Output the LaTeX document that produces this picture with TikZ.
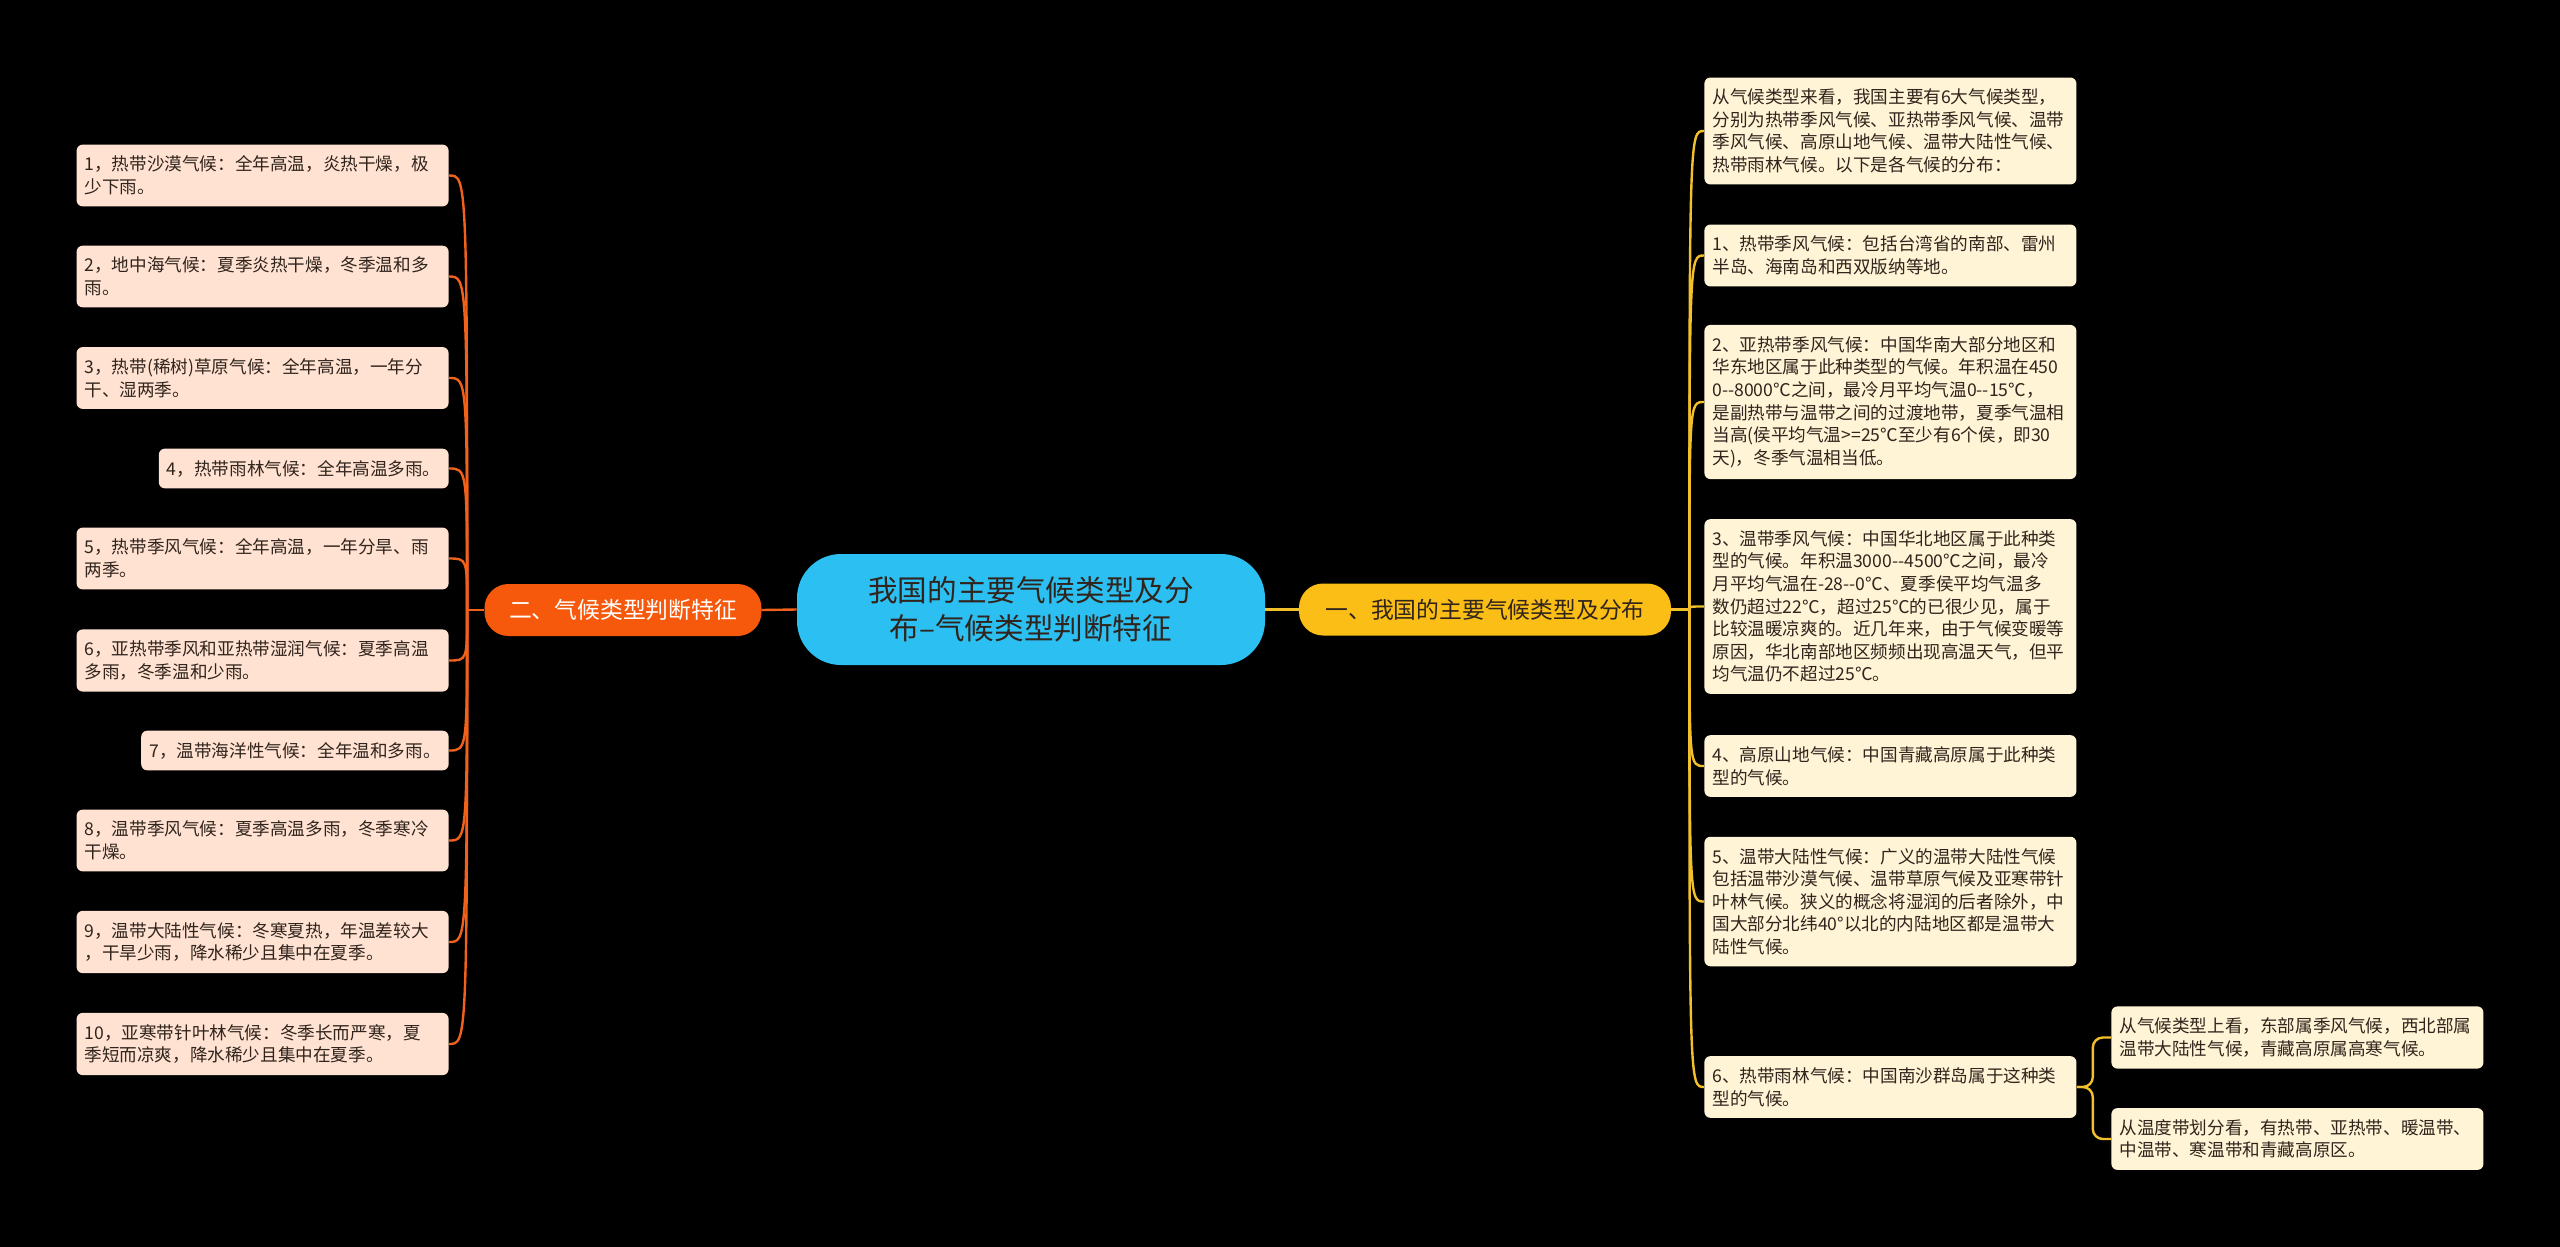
\documentclass[tikz,border=0pt]{standalone}
\usepackage{fontspec}
\setmainfont{Noto Sans CJK SC}
\usepackage{xcolor}
\usepackage{tikz}
\definecolor{rootfill}{RGB}{44,192,242}
\definecolor{mainLfill}{RGB}{246,88,12}
\definecolor{mainRfill}{RGB}{250,190,22}
\definecolor{leafLfill}{RGB}{255,226,210}
\definecolor{leafRfill}{RGB}{255,244,214}
\definecolor{linkLcol}{RGB}{240,98,28}
\definecolor{linkRcol}{RGB}{242,192,42}
\definecolor{inkdark}{RGB}{48,36,28}
\tikzset{
  root/.style={fill=rootfill, rounded corners=22pt, align=center, minimum width=234pt,
    minimum height=55.5pt, text=inkdark, font=\fontsize{14.8pt}{19pt}\selectfont},
  mainL/.style={fill=mainLfill, rounded corners=12pt, minimum width=138.5pt, minimum height=26pt,
    text=white, font=\fontsize{11.4pt}{13pt}\selectfont},
  mainR/.style={fill=mainRfill, rounded corners=12pt, minimum width=186pt, minimum height=26pt,
    text=inkdark, font=\fontsize{11.4pt}{13pt}\selectfont},
  leafL/.style={fill=leafLfill, rounded corners=3pt, align=left, inner xsep=4pt, inner ysep=5.7pt,
    text=inkdark, anchor=east, font=\fontsize{8.8pt}{11.3pt}\selectfont},
  leafR/.style={fill=leafRfill, rounded corners=3pt, align=left, inner xsep=4pt, inner ysep=5.7pt,
    text=inkdark, anchor=west, font=\fontsize{8.8pt}{11.3pt}\selectfont},
  wide/.style={text width=178pt},
  linkL/.style={draw=linkLcol, line width=1.2pt},
  linkR/.style={draw=linkRcol, line width=1.2pt},
}

\begin{document}
\begin{tikzpicture}[x=0.5pt, y=-0.5pt]
  \fill[black] (0,0) rectangle (2560,1247);
  \useasboundingbox (0,0) rectangle (2560,1247);

  \node[root] (root) at (1031,609.5) {我国的主要气候类型及分\\布–气候类型判断特征};
  \node[mainL] (mainL) at (623,610) {二、气候类型判断特征};
  \node[mainR] (mainR) at (1485,609.5) {一、我国的主要气候类型及分布};

  % left branch
  \node[leafL, wide] (l1) at (449,175.5) {1，热带沙漠气候：全年高温，炎热干燥，极\\少下雨。};
  \node[leafL, wide] (l2) at (449,276.5) {2，地中海气候：夏季炎热干燥，冬季温和多\\雨。};
  \node[leafL, wide] (l3) at (449,378) {3，热带(稀树)草原气候：全年高温，一年分\\干、湿两季。};
  \node[leafL] (l4) at (449,468.5) {4，热带雨林气候：全年高温多雨。};
  \node[leafL, wide] (l5) at (449,558.5) {5，热带季风气候：全年高温，一年分旱、雨\\两季。};
  \node[leafL, wide] (l6) at (449,660.5) {6，亚热带季风和亚热带湿润气候：夏季高温\\多雨，冬季温和少雨。};
  \node[leafL] (l7) at (449,750.5) {7，温带海洋性气候：全年温和多雨。};
  \node[leafL, wide] (l8) at (449,840.5) {8，温带季风气候：夏季高温多雨，冬季寒冷\\干燥。};
  \node[leafL, wide] (l9) at (449,942) {9，温带大陆性气候：冬寒夏热，年温差较大\\，干旱少雨，降水稀少且集中在夏季。};
  \node[leafL, wide] (l10) at (449,1044) {10，亚寒带针叶林气候：冬季长而严寒，夏\\季短而凉爽，降水稀少且集中在夏季。};

  % right branch
  \node[leafR, wide] (r0) at (1704,131) {从气候类型来看，我国主要有6大气候类型，\\分别为热带季风气候、亚热带季风气候、温带\\季风气候、高原山地气候、温带大陆性气候、\\热带雨林气候。以下是各气候的分布：};
  \node[leafR, wide] (r1) at (1704,255.5) {1、热带季风气候：包括台湾省的南部、雷州\\半岛、海南岛和西双版纳等地。};
  \node[leafR, wide] (r2) at (1704,402) {2、亚热带季风气候：中国华南大部分地区和\\华东地区属于此种类型的气候。年积温在450\\0-{}-8000℃之间，最冷月平均气温0-{}-15℃，\\是副热带与温带之间的过渡地带，夏季气温相\\当高(侯平均气温>=25℃至少有6个侯，即30\\天)，冬季气温相当低。};
  \node[leafR, wide] (r3) at (1704,606.5) {3、温带季风气候：中国华北地区属于此种类\\型的气候。年积温3000-{}-4500℃之间，最冷\\月平均气温在-28-{}-0℃、夏季侯平均气温多\\数仍超过22℃，超过25℃的已很少见，属于\\比较温暖凉爽的。近几年来，由于气候变暖等\\原因，华北南部地区频频出现高温天气，但平\\均气温仍不超过25℃。};
  \node[leafR, wide] (r4) at (1704,766) {4、高原山地气候：中国青藏高原属于此种类\\型的气候。};
  \node[leafR, wide] (r5) at (1704,901.5) {5、温带大陆性气候：广义的温带大陆性气候\\包括温带沙漠气候、温带草原气候及亚寒带针\\叶林气候。狭义的概念将湿润的后者除外，中\\国大部分北纬40°以北的内陆地区都是温带大\\陆性气候。};
  \node[leafR, wide] (r6) at (1704,1087) {6、热带雨林气候：中国南沙群岛属于这种类\\型的气候。};
  \node[leafR, wide] (c1) at (2111,1037.5) {从气候类型上看，东部属季风气候，西北部属\\温带大陆性气候，青藏高原属高寒气候。};
  \node[leafR, wide] (c2) at (2111,1139) {从温度带划分看，有热带、亚热带、暖温带、\\中温带、寒温带和青藏高原区。};

  % connectors
  \draw[linkL] (root.west) -- (mainL.east);
  \draw[linkR] (root.east) -- (mainR.west);
  \path (mainL.west) ++(-17,0) coordinate (jl);
  \path (mainR.east) ++(18,0) coordinate (jr);
  \draw[linkL] (mainL.west) -- (jl);
  \draw[linkR] (mainR.east) -- (jr);
  \draw[linkL] (jl) .. controls (jl |- l1) .. (l1.east);
  \draw[linkL] (jl) .. controls (jl |- l2) .. (l2.east);
  \draw[linkL] (jl) .. controls (jl |- l3) .. (l3.east);
  \draw[linkL] (jl) .. controls (jl |- l4) .. (l4.east);
  \draw[linkL] (jl) .. controls (jl |- l5) .. (l5.east);
  \draw[linkL] (jl) .. controls (jl |- l6) .. (l6.east);
  \draw[linkL] (jl) .. controls (jl |- l7) .. (l7.east);
  \draw[linkL] (jl) .. controls (jl |- l8) .. (l8.east);
  \draw[linkL] (jl) .. controls (jl |- l9) .. (l9.east);
  \draw[linkL] (jl) .. controls (jl |- l10) .. (l10.east);
  \draw[linkR] (jr) .. controls (jr |- r0) .. (r0.west);
  \draw[linkR] (jr) .. controls (jr |- r1) .. (r1.west);
  \draw[linkR] (jr) .. controls (jr |- r2) .. (r2.west);
  \draw[linkR] (jr) .. controls (jr |- r3) .. (r3.west);
  \draw[linkR] (jr) .. controls (jr |- r4) .. (r4.west);
  \draw[linkR] (jr) .. controls (jr |- r5) .. (r5.west);
  \draw[linkR] (jr) .. controls (jr |- r6) .. (r6.west);
  \draw[linkR, rounded corners=5pt] (r6.east) -- ++(16,0) |- (c1.west);
  \draw[linkR, rounded corners=5pt] (r6.east) -- ++(16,0) |- (c2.west);
\end{tikzpicture}
\end{document}
